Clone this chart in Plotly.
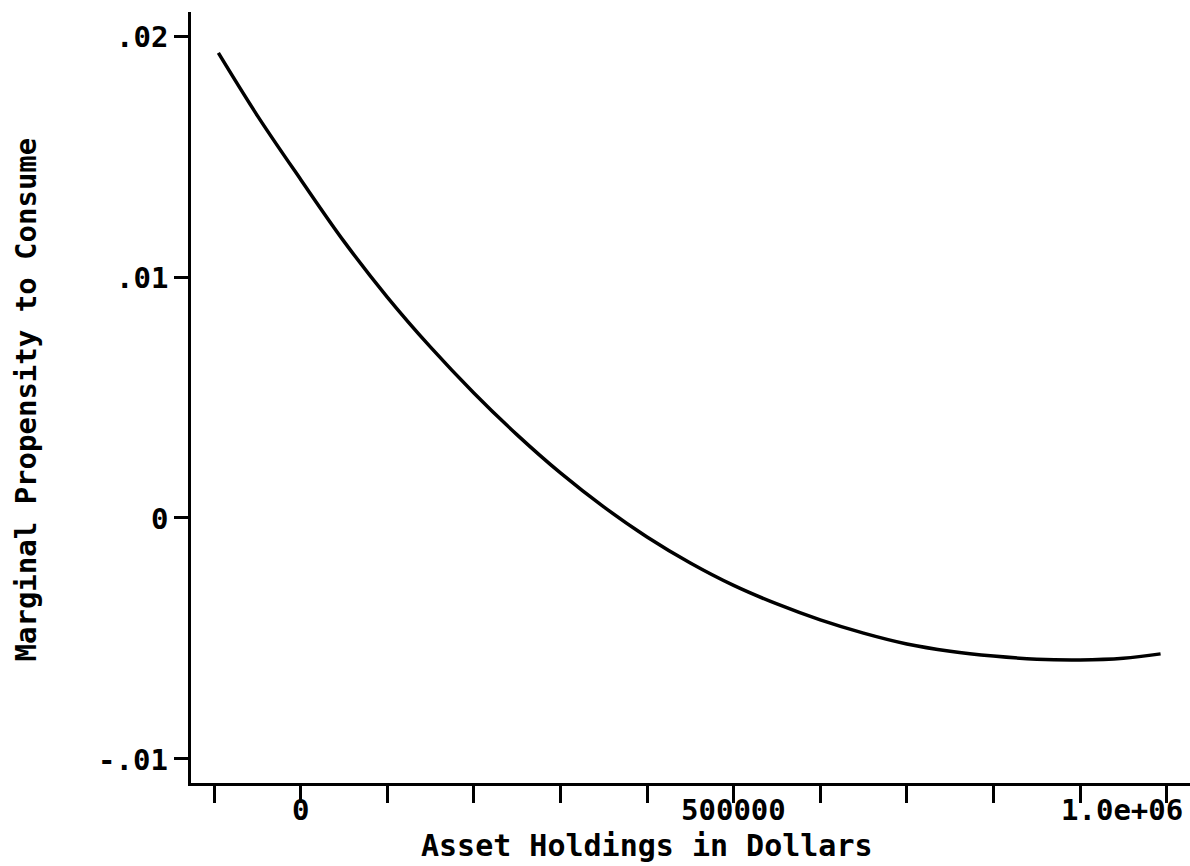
import plotly.graph_objects as go

# Data
asset_holdings = [-95000, -50000, 0, 50000, 100000, 150000, 200000, 250000, 300000,
                  350000, 400000, 450000, 500000, 550000, 600000, 650000, 700000,
                  750000, 800000, 850000, 900000, 950000, 993000]
mpc = [0.0193, 0.0167, 0.01405, 0.01148, 0.00917, 0.00709, 0.00519, 0.00345, 0.00187,
       0.00046, -0.00079, -0.00187, -0.00280, -0.00357, -0.00423, -0.00478, -0.00523,
       -0.00553, -0.00573, -0.00586, -0.00589, -0.00582, -0.00564]

x_tickvals = [-100000, 0, 100000, 200000, 300000, 400000, 500000, 600000, 700000,
              800000, 900000, 1000000]
x_labelvals = [0, 500000, 1000000]
x_labeltext = ["0", "500000", "1.0e+06"]
y_tickvals = [-0.01, 0, 0.01, 0.02]
y_ticktext = ["-.01", "0", ".01", ".02"]

FONT = "DejaVu Sans Mono"
TICKFONT = dict(family=FONT, size=29, weight="bold", color="black")

fig = go.Figure()
fig.add_trace(go.Scatter(x=asset_holdings, y=mpc, mode="lines",
                         line=dict(color="black", width=3.5, shape="spline"),
                         showlegend=False, hoverinfo="skip"))

annotations = []
for v, t in zip(x_labelvals, x_labeltext):
    last = v == x_labelvals[-1]
    annotations.append(dict(
        x=v, y=0, xref="x", yref="paper", text=t, showarrow=False,
        xanchor="right" if last else "center", yanchor="top",
        xshift=18 if last else 0, yshift=-8, font=TICKFONT))
for v, t in zip(y_tickvals, y_ticktext):
    annotations.append(dict(
        x=0, y=v, xref="paper", yref="y", text=t, showarrow=False,
        xanchor="right", yanchor="middle", xshift=-21, yshift=-1, font=TICKFONT))

annotations += [
    dict(x=0.5, y=0, xref="paper", yref="paper", text="Asset Holdings in Dollars",
         showarrow=False, xanchor="center", yanchor="top", yshift=-43,
         xshift=-44, font=dict(family=FONT, size=30, weight="bold")),
    dict(x=0, y=0.5, xref="paper", yref="paper", text="Marginal Propensity to Consume",
         showarrow=False, textangle=-90, xanchor="center", yanchor="middle",
         xshift=-166, yshift=-2, font=dict(family=FONT, size=29, weight="bold")),
]

fig.update_layout(
    width=1190, height=866,
    margin=dict(l=191, r=0, t=12, b=83),
    paper_bgcolor="white", plot_bgcolor="white",
    font=dict(family=FONT, color="black", size=27),
    xaxis=dict(range=[-126600, 1026980], tickvals=x_tickvals, showticklabels=False,
               ticks="outside", ticklen=17, tickwidth=3, tickcolor="black",
               showline=True, linewidth=3, linecolor="black", showgrid=False,
               zeroline=False),
    yaxis=dict(range=[-0.011, 0.021], tickvals=y_tickvals, showticklabels=False,
               ticks="outside", ticklen=14, tickwidth=3, tickcolor="black",
               showline=True, linewidth=3, linecolor="black", showgrid=False,
               zeroline=False),
    annotations=annotations,
)

fig.write_html("out.html")
